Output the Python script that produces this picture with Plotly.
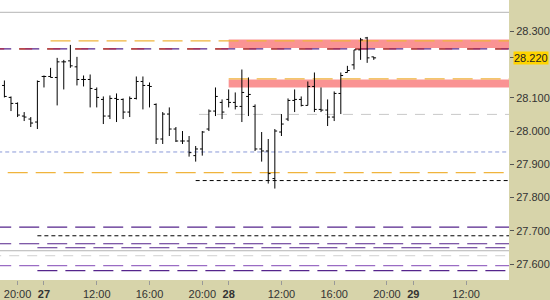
import pandas as pd
import plotly.graph_objects as go

# ---- data -------------------------------------------------------------
bar_time = (list(pd.date_range("2023-06-26 19:00", "2023-06-26 21:30", freq="30min"))
            + list(pd.date_range("2023-06-27 08:00", "2023-06-27 21:30", freq="30min"))
            + list(pd.date_range("2023-06-28 08:00", "2023-06-28 19:00", freq="30min")))

open_ = [28.137, 28.101, 28.083, 28.045, 28.036, 28.027,
         28.164, 28.164, 28.161, 28.208, 28.211, 28.193, 28.155, 28.155, 28.125, 28.095,
         28.045, 28.098, 28.095, 28.057, 28.098, 28.149, 28.137, 28.080, 27.976, 28.051,
         28.006, 27.970, 27.970, 27.926, 27.946, 28.006, 28.060, 28.086,
         28.095, 28.086, 28.074, 28.104, 28.074, 27.946, 27.940, 27.857, 27.997, 28.036,
         28.092, 28.095, 28.077, 28.134, 28.065, 28.063, 28.042, 28.113, 28.176, 28.199,
         28.244, 28.280, 28.223]
high = [28.152, 28.104, 28.086, 28.057, 28.042, 28.152,
        28.167, 28.190, 28.220, 28.214, 28.259, 28.223, 28.167, 28.170, 28.131, 28.104,
        28.107, 28.113, 28.098, 28.104, 28.164, 28.164, 28.146, 28.083, 28.057, 28.071,
        28.012, 28.000, 27.985, 27.955, 28.000, 28.065, 28.131, 28.095,
        28.125, 28.116, 28.185, 28.161, 28.080, 27.997, 27.976, 28.006, 28.051, 28.098,
        28.125, 28.104, 28.149, 28.176, 28.131, 28.095, 28.119, 28.176, 28.196, 28.244,
        28.280, 28.283, 28.223]
low = [28.101, 28.060, 28.042, 28.030, 28.012, 28.006,
       28.131, 28.161, 28.077, 28.125, 28.190, 28.137, 28.134, 28.071, 28.071, 28.021,
       28.036, 28.027, 28.036, 28.042, 28.095, 28.065, 28.071, 27.961, 27.961, 27.985,
       27.967, 27.961, 27.923, 27.908, 27.926, 28.000, 28.045, 28.036,
       28.071, 28.065, 28.027, 28.045, 27.940, 27.908, 27.842, 27.827, 27.985, 28.030,
       28.057, 28.074, 28.077, 28.057, 28.057, 28.015, 28.030, 28.051, 28.176, 28.185,
       28.214, 28.205, 28.214]
close = [28.104, 28.083, 28.048, 28.042, 28.024, 28.149,
         28.164, 28.161, 28.208, 28.208, 28.196, 28.155, 28.155, 28.128, 28.101, 28.045,
         28.098, 28.095, 28.057, 28.098, 28.149, 28.137, 28.134, 27.976, 28.051, 28.006,
         27.970, 27.970, 27.935, 27.946, 27.997, 28.060, 28.104, 28.057,
         28.086, 28.074, 28.116, 28.110, 27.946, 27.940, 27.872, 28.000, 28.021, 28.092,
         28.095, 28.077, 28.134, 28.065, 28.063, 28.042, 28.113, 28.167, 28.182, 28.244,
         28.274, 28.220, 28.220]

last_price = 28.220

# zones (low, high, start)
zone_low = [28.250, 28.131]
zone_high = [28.275, 28.155]
zone_start = ["2023-06-28 08:00", "2023-06-28 08:00"]

# horizontal levels (price, start time)
level_price = [28.357, 28.271, 28.247, 28.247, 28.247, 28.157, 28.050, 27.937, 27.875,
               27.851, 27.711, 27.685, 27.661, 27.649, 27.640, 27.625, 27.595, 27.580]
level_start = ["2023-06-26 18:00", "2023-06-27 08:30", "2023-06-26 18:00", "2023-06-26 18:00",
               "2023-06-26 18:00", "2023-06-28 08:00", "2023-06-27 19:45", "2023-06-26 18:00",
               "2023-06-26 19:15", "2023-06-27 19:30", "2023-06-26 18:00", "2023-06-26 21:30",
               "2023-06-26 18:00", "2023-06-26 21:30", "2023-06-26 18:00", "2023-06-26 18:00",
               "2023-06-26 18:00", "2023-06-26 21:30"]
level_end = "2023-06-29 20:00"

price_ticks = [27.6, 27.7, 27.8, 27.9, 28.0, 28.1, 28.22, 28.3]
price_tick_labels = ["27.600", "27.700", "27.800", "27.900", "28.000", "28.100", "", "28.300"]

tick_times = ["2023-06-26 20:00", "2023-06-27 08:00", "2023-06-27 12:00", "2023-06-27 16:00",
              "2023-06-27 20:00", "2023-06-28 08:00", "2023-06-28 12:00", "2023-06-28 16:00",
              "2023-06-28 20:00", "2023-06-29 08:00", "2023-06-29 12:00"]
tick_labels = ["20:00", "<b>27</b>", "12:00", "16:00", "20:00", "<b>28</b>", "12:00",
               "16:00", "20:00", "<b>29</b>", "12:00"]

x_range = ["2023-06-26 18:40", "2023-06-29 15:15"]
y_range = [27.552, 28.394]

# ---- styles -----------------------------------------------------------
PURPLE = "#55258c"
ORANGE = "#f0b43c"
level_style = [
    dict(color="#b4b4b4", width=1, dash="solid"),
    dict(color=ORANGE, width=1.2, dash="20px,8px"),
    dict(color=PURPLE, width=1.2, dash="20px,8px"),
    dict(color=ORANGE, width=1.2, dash="6px,22px"),
    dict(color="#b02a48", width=1.2, dash="13px,15px"),
    dict(color=ORANGE, width=1.2, dash="20px,8px"),
    dict(color="#c8c8c8", width=1, dash="10px,8px"),
    dict(color="#8a9ad8", width=1, dash="4px,3px"),
    dict(color=ORANGE, width=1.2, dash="20px,8px"),
    dict(color="#000000", width=1, dash="4px,3px"),
    dict(color=PURPLE, width=1.2, dash="20px,8px"),
    dict(color="#000000", width=1, dash="4px,3px"),
    dict(color=PURPLE, width=1.2, dash="20px,8px"),
    dict(color=PURPLE, width=1.2, dash="20px,8px"),
    dict(color="#b4b4b4", width=1, dash="solid"),
    dict(color="#d0d0d0", width=1, dash="10px,8px"),
    dict(color="#9a6cc4", width=1.2, dash="20px,8px"),
    dict(color=PURPLE, width=1.2, dash="20px,8px"),
]

fig = go.Figure()

shapes = []
for lo, hi, st in zip(zone_low, zone_high, zone_start):
    shapes.append(dict(type="rect", xref="x", yref="y", x0=st, x1=level_end, y0=lo, y1=hi,
                       fillcolor="rgba(250,135,135,0.9)", line=dict(width=0), layer="below"))
for p, st, sty in zip(level_price, level_start, level_style):
    shapes.append(dict(type="line", xref="x", yref="y", x0=st, x1=level_end, y0=p, y1=p,
                       line=sty, layer="below"))

fig.add_trace(go.Ohlc(
    x=bar_time, open=open_, high=high, low=low, close=close,
    increasing=dict(line=dict(color="black", width=1)),
    decreasing=dict(line=dict(color="black", width=1)),
    tickwidth=0.35, hoverinfo="skip", showlegend=False,
))

fig.add_annotation(xref="paper", yref="y", x=1, y=last_price, xanchor="left", yanchor="middle",
                   xshift=4, text="28.220", showarrow=False, bgcolor="#ffd400",
                   font=dict(family="Liberation Sans", size=11, color="#222"), borderpad=0)

fig.update_layout(
    width=550, height=300,
    margin=dict(l=0, r=41, t=0, b=17),
    paper_bgcolor="#d7d4aa", plot_bgcolor="white",
    shapes=shapes, showlegend=False,
    font=dict(family="Liberation Sans", size=11, color="#333"),
)
fig.update_xaxes(
    type="date", range=x_range, rangebreaks=[dict(bounds=[22, 8], pattern="hour")],
    rangeslider_visible=False, showgrid=False, zeroline=False,
    tickvals=tick_times, ticktext=tick_labels, ticks="outside", ticklen=4,
    tickcolor="#999", tickfont=dict(size=11, color="#333"), showline=False,
)
fig.update_yaxes(
    range=y_range, side="right", showgrid=False, zeroline=False,
    tickvals=price_ticks, ticktext=price_tick_labels, ticks="outside", ticklen=4,
    tickcolor="#555", tickfont=dict(size=11, color="#333"), showline=False,
)

fig.write_html("out.html", config={"displayModeBar": False})
